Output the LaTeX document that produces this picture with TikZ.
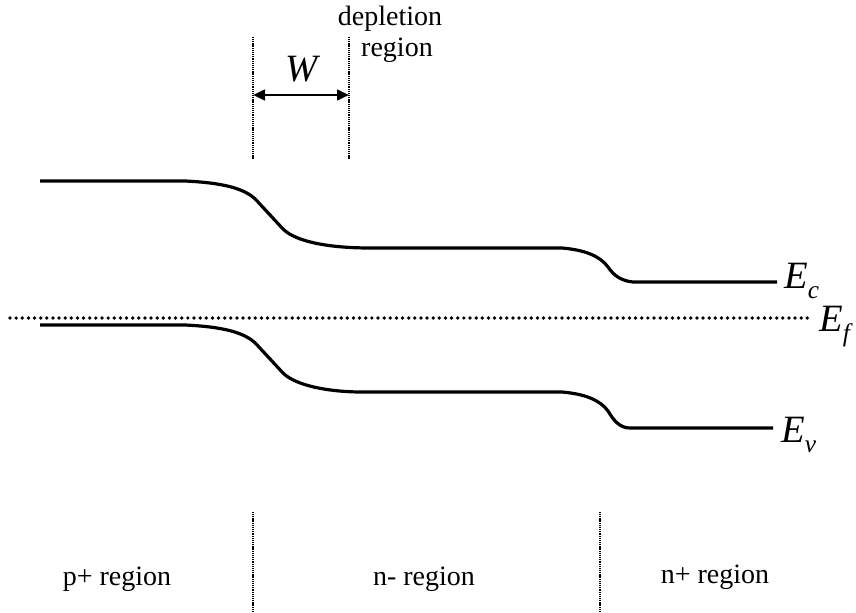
\documentclass[tikz,border=0pt]{standalone}
\usepackage{fontspec}
\setmainfont{Liberation Serif}
\usetikzlibrary{arrows.meta}
\tikzset{
  band/.style={line width=2.4pt, line cap=butt, line join=round},
  fermi/.style={line width=2.8pt, line cap=round, dash pattern=on 0pt off 4.6pt},
  guide/.style={line width=0.9pt, dash pattern=on 0.8pt off 0.6pt},
  txt/.style={inner sep=0pt, anchor=base, font=\fontsize{21}{21}\selectfont},
  elab/.style={inner sep=0pt, anchor=base west, font=\fontsize{29}{29}\selectfont\itshape},
  dim/.style={line width=1.9pt, {Triangle[length=9pt,width=8pt]}-{Triangle[length=9pt,width=8pt]}}
}
\newcommand{\subl}[1]{\raisebox{-0.28em}{\fontsize{19}{19}\selectfont\itshape #1}}
\begin{document}
\begin{tikzpicture}[x=0.75pt,y=-0.75pt]
\useasboundingbox (0,0) rectangle (856,613);
% guides
\coordinate (gt1) at (253,37); \coordinate (gb1) at (253,160);
\coordinate (gt2) at (349,37); \coordinate (gb2) at (349,160);
\draw[guide] (gt1) -- (gb1);
\draw[guide] (gt2) -- (gb2);
\coordinate (wa) at (253,95); \coordinate (wb) at (349,95);
\draw[dim] (wa) -- (wb);
\node[elab, anchor=base] (W) at (302,82) {W};
\node[txt] (dep1) at (390,26) {depletion};
\node[txt] (dep2) at (397,57) {region};
% bands
\draw[band] (40,181) -- (185,181) .. controls (228,183) and (248,190) .. (258,202)
  -- (283,229) .. controls (296,242) and (330,248) .. (370,248) -- (562,248)
  .. controls (585,250) and (600,256) .. (608,267) .. controls (614,276) and (622,281) .. (633,282) -- (777,282);
\draw[band] (40,325) -- (185,325) .. controls (228,327) and (248,334) .. (258,346)
  -- (283,373) .. controls (296,386) and (330,392) .. (362,392) -- (562,392)
  .. controls (585,394) and (600,400) .. (608,411) .. controls (614,421) and (620,428) .. (630,428) -- (773,428);
\coordinate (fa) at (10,318); \coordinate (fb) at (810,318);
\draw[fermi] (fa) -- (fb);
\node[elab] (Ec) at (784,288) {E\subl{c}};
\node[elab] (Ef) at (819,331) {E\subl{f}};
\node[elab] (Ev) at (781,442) {E\subl{v}};
% bottom
\coordinate (bt1) at (253,512); \coordinate (bb1) at (253,613);
\coordinate (bt2) at (600,512); \coordinate (bb2) at (600,613);
\draw[guide] (bt1) -- (bb1);
\draw[guide] (bt2) -- (bb2);
\node[txt] (p) at (117,585) {p+ region};
\node[txt] (n) at (424,585) {n- region};
\node[txt] (np) at (715,583) {n+ region};
\end{tikzpicture}
\end{document}
